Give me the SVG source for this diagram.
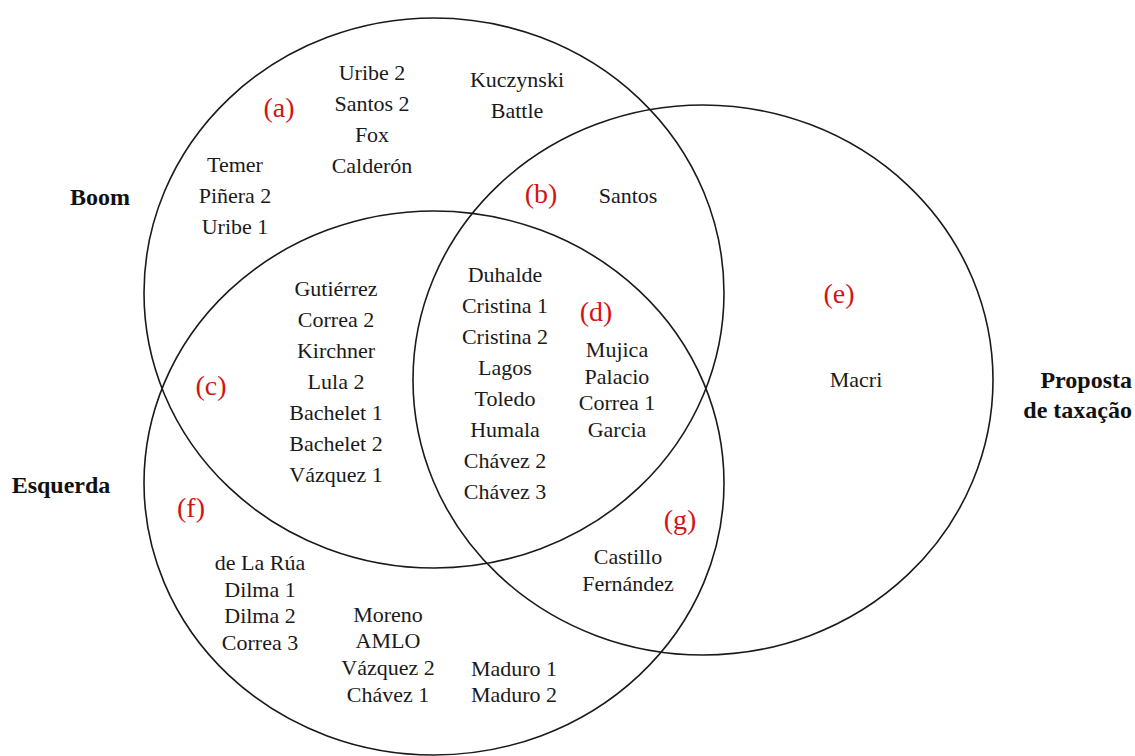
<svg xmlns="http://www.w3.org/2000/svg" width="1135" height="756" viewBox="0 0 1135 756">
<style>
.c{fill:none;stroke:#1a1a1a;stroke-width:1.6}
.t{font-family:"Liberation Serif","Times New Roman",serif;font-size:22px;fill:#1a1a1a;text-anchor:middle}
.r{font-family:"Liberation Serif","Times New Roman",serif;font-size:28px;fill:#d41414;text-anchor:middle}
.b{font-family:"Liberation Serif","Times New Roman",serif;font-size:24px;font-weight:bold;fill:#111}
</style>
<rect width="1135" height="756" fill="#fff"/>
<g id="sets">
<ellipse id="boom" class="c" cx="434" cy="293" rx="290" ry="275"/>
<ellipse id="esquerda" class="c" cx="434" cy="483" rx="290" ry="272"/>
<ellipse id="proposta" class="c" cx="703" cy="380" rx="290" ry="275"/>
</g>
<g id="set-labels">
<text class="b" x="100" y="205" text-anchor="middle">Boom</text>
<text class="b" x="61" y="493" text-anchor="middle">Esquerda</text>
<text class="b" x="1132" y="388" text-anchor="end">Proposta</text>
<text class="b" x="1132" y="418" text-anchor="end">de taxação</text>
</g>
<g id="region-a">
<text class="r" x="279" y="117">(a)</text>
<text class="t" x="372" y="80">Uribe 2</text>
<text class="t" x="372" y="111">Santos 2</text>
<text class="t" x="372" y="142">Fox</text>
<text class="t" x="372" y="173">Calderón</text>
<text class="t" x="517" y="87">Kuczynski</text>
<text class="t" x="517" y="118">Battle</text>
<text class="t" x="235" y="172">Temer</text>
<text class="t" x="235" y="203">Piñera 2</text>
<text class="t" x="235" y="234">Uribe 1</text>
</g>
<g id="region-b">
<text class="r" x="541" y="203">(b)</text>
<text class="t" x="628" y="203">Santos</text>
</g>
<g id="region-c">
<text class="r" x="211" y="395">(c)</text>
<text class="t" x="336" y="296">Gutiérrez</text>
<text class="t" x="336" y="327">Correa 2</text>
<text class="t" x="336" y="358">Kirchner</text>
<text class="t" x="336" y="389">Lula 2</text>
<text class="t" x="336" y="420">Bachelet 1</text>
<text class="t" x="336" y="451">Bachelet 2</text>
<text class="t" x="336" y="482">Vázquez 1</text>
</g>
<g id="region-d">
<text class="r" x="596" y="321">(d)</text>
<text class="t" x="505" y="282">Duhalde</text>
<text class="t" x="505" y="313">Cristina 1</text>
<text class="t" x="505" y="344">Cristina 2</text>
<text class="t" x="505" y="375">Lagos</text>
<text class="t" x="505" y="406">Toledo</text>
<text class="t" x="505" y="437">Humala</text>
<text class="t" x="505" y="468">Chávez 2</text>
<text class="t" x="505" y="499">Chávez 3</text>
<text class="t" x="617" y="357">Mujica</text>
<text class="t" x="617" y="384">Palacio</text>
<text class="t" x="617" y="410">Correa 1</text>
<text class="t" x="617" y="437">Garcia</text>
</g>
<g id="region-e">
<text class="r" x="839" y="303">(e)</text>
<text class="t" x="856" y="387">Macri</text>
</g>
<g id="region-f">
<text class="r" x="191" y="517">(f)</text>
<text class="t" x="260" y="570">de La Rúa</text>
<text class="t" x="260" y="597">Dilma 1</text>
<text class="t" x="260" y="623">Dilma 2</text>
<text class="t" x="260" y="650">Correa 3</text>
<text class="t" x="388" y="622">Moreno</text>
<text class="t" x="388" y="648">AMLO</text>
<text class="t" x="388" y="675">Vázquez 2</text>
<text class="t" x="388" y="702">Chávez 1</text>
<text class="t" x="514" y="676">Maduro 1</text>
<text class="t" x="514" y="702">Maduro 2</text>
</g>
<g id="region-g">
<text class="r" x="680" y="529">(g)</text>
<text class="t" x="628" y="564">Castillo</text>
<text class="t" x="628" y="591">Fernández</text>
</g>
</svg>
